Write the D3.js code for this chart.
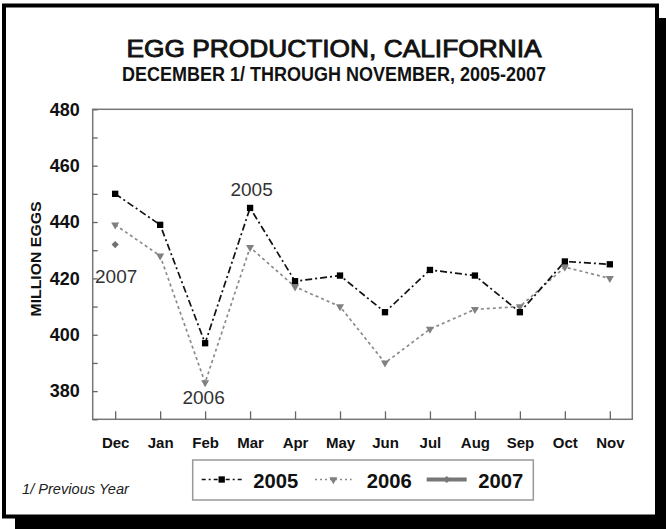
<!DOCTYPE html>
<html>
<head>
<meta charset="utf-8">
<script src="https://cdn.jsdelivr.net/npm/d3@7"></script>
<style>
  html, body { margin: 0; padding: 0; background: #fff; }
  svg { display: block; }
  text { font-family: "Liberation Sans", Arial, Helvetica, sans-serif; }
</style>
</head>
<body>
<svg id="chart" width="666" height="529"></svg>
<script>
// ---- data ----
const months = ["Dec","Jan","Feb","Mar","Apr","May","Jun","Jul","Aug","Sep","Oct","Nov"];
const values2005 = [450, 439, 397, 445, 419, 421, 408, 423, 421, 408, 426, 425];
const values2006 = [439, 428, 383, 431, 417, 410, 390, 402, 409, 410, 424, 420];
const values2007 = [432];
const yTicks = [380, 400, 420, 440, 460, 480];
const yMinorTicks = [370, 390, 410, 430, 450, 470];
const seriesNames = ["2005", "2006", "2007"];
const titleText = "EGG PRODUCTION, CALIFORNIA";
const subtitleText = "DECEMBER 1/ THROUGH NOVEMBER, 2005-2007";
const yAxisTitle = "MILLION EGGS";
const footnote = "1/ Previous Year";

const svg = d3.select("#chart");

// frame with drop shadow
svg.append("rect").attr("x", 15).attr("y", 18).attr("width", 651).attr("height", 511).attr("fill", "#000");
svg.append("rect").attr("x", 4).attr("y", 5.5).attr("width", 653).attr("height", 511)
  .attr("fill", "#fff").attr("stroke", "#000").attr("stroke-width", 4);

// titles
svg.append("text").attr("x", 334).attr("y", 57).attr("text-anchor", "middle")
  .attr("font-size", 24.5).attr("fill", "#111")
  .attr("textLength", 415).attr("lengthAdjust", "spacingAndGlyphs")
  .style("stroke", "#111").style("stroke-width", 0.9)
  .text(titleText);
svg.append("text").attr("x", 334).attr("y", 80.5).attr("text-anchor", "middle")
  .attr("font-size", 20).attr("font-weight", "bold").attr("fill", "#111")
  .attr("textLength", 424).attr("lengthAdjust", "spacingAndGlyphs")
  .text(subtitleText);

// scales
const plot = { left: 92.7, right: 632.3, top: 109.3, bottom: 419.3 };
const x = d3.scalePoint().domain(months).range([plot.left, plot.right]).padding(0.5);
const y = d3.scaleLinear().domain([370, 480]).range([plot.bottom, plot.top]);

// plot frame
svg.append("rect").attr("x", plot.left).attr("y", plot.top)
  .attr("width", plot.right - plot.left).attr("height", plot.bottom - plot.top)
  .attr("fill", "none").attr("stroke", "#777").attr("stroke-width", 1.5);

// y axis
const yAxis = d3.axisLeft(y).tickValues(yTicks.concat(yMinorTicks))
  .tickSizeInner(-5).tickSizeOuter(0).tickPadding(13)
  .tickFormat(d => yTicks.includes(d) ? d : "");
const gy = svg.append("g").attr("transform", `translate(${plot.left},0)`).call(yAxis);
gy.select(".domain").remove();
gy.selectAll(".tick line").attr("stroke", "#666").attr("stroke-width", 1.3);
gy.selectAll(".tick text").attr("font-size", 18).attr("font-weight", "bold").attr("fill", "#111")
  .attr("font-family", "'Liberation Sans', Arial, sans-serif");

// x axis
const xAxis = d3.axisBottom(x).tickSizeInner(-8).tickSizeOuter(0).tickPadding(18);
const gx = svg.append("g").attr("transform", `translate(0,${plot.bottom})`).call(xAxis);
gx.select(".domain").remove();
gx.selectAll(".tick line").attr("stroke", "#666").attr("stroke-width", 1.3);
gx.selectAll(".tick text").attr("font-size", 15).attr("font-weight", "bold").attr("fill", "#111")
  .attr("font-family", "'Liberation Sans', Arial, sans-serif");

// y axis title
svg.append("text").attr("transform", "translate(41,259) rotate(-90)")
  .attr("text-anchor", "middle").attr("font-size", 14).attr("font-weight", "bold").attr("fill", "#111")
  .attr("textLength", 115).attr("lengthAdjust", "spacingAndGlyphs")
  .text(yAxisTitle);

// lines
const line = d3.line().x((d, i) => x(months[i])).y(d => y(d));
svg.append("path").datum(values2006).attr("d", line).attr("fill", "none")
  .attr("stroke", "#8a8a8a").attr("stroke-width", 1.7).attr("stroke-dasharray", "3,3");
svg.append("path").datum(values2005).attr("d", line).attr("fill", "none")
  .attr("stroke", "#111").attr("stroke-width", 1.7).attr("stroke-dasharray", "7,3,2,3");

const sq = d3.symbol().type(d3.symbolSquare).size(40);
const tri = d3.symbol().type(d3.symbolTriangle).size(28);
const dia = d3.symbol().type(d3.symbolSquare).size(26);

svg.append("g").selectAll("path").data(values2006).join("path")
  .attr("d", tri).attr("fill", "#808080")
  .attr("transform", (d, i) => `translate(${x(months[i])},${y(d)}) rotate(180)`);
svg.append("g").selectAll("path").data(values2005).join("path")
  .attr("d", sq).attr("fill", "#000")
  .attr("transform", (d, i) => `translate(${x(months[i])},${y(d)})`);
svg.append("g").selectAll("path").data(values2007).join("path")
  .attr("d", dia).attr("fill", "#707070")
  .attr("transform", (d, i) => `translate(${x(months[i])},${y(d)}) rotate(45)`);

// annotations
const ann = [
  { name: seriesNames[0], m: "Mar", v: values2005[3], dx: 1.5, dy: -12 },
  { name: seriesNames[1], m: "Feb", v: values2006[2], dx: -1.5, dy: 21 },
  { name: seriesNames[2], m: "Dec", v: values2007[0], dx: 1, dy: 38 }
];
ann.forEach(a => {
  svg.append("text").attr("x", x(a.m) + a.dx).attr("y", y(a.v) + a.dy)
    .attr("text-anchor", "middle").attr("font-size", 19).attr("fill", "#333")
    .text(a.name);
});

// legend
svg.append("rect").attr("x", 192.7).attr("y", 460).attr("width", 340.6).attr("height", 40)
  .attr("fill", "#fff").attr("stroke", "#999").attr("stroke-width", 1.5);
const ly = 479.5;
const leg = [
  { x1: 201.7, x2: 241.7, tx: 253.3, stroke: "#111", dash: "4,3,2,3", w: 1.7, sym: sq, fill: "#000", rot: 0 },
  { x1: 315, x2: 351.7, tx: 366.7, stroke: "#8a8a8a", dash: "2,3", w: 1.7, sym: tri, fill: "#808080", rot: 180 },
  { x1: 426.7, x2: 466.7, tx: 478.3, stroke: "#777", dash: null, w: 4, sym: dia, fill: "#777", rot: 45 }
];
leg.forEach((l, i) => {
  svg.append("line").attr("x1", l.x1).attr("x2", l.x2).attr("y1", ly).attr("y2", ly)
    .attr("stroke", l.stroke).attr("stroke-width", l.w).attr("stroke-dasharray", l.dash);
  svg.append("path").attr("d", l.sym).attr("fill", l.fill)
    .attr("transform", `translate(${(l.x1 + l.x2) / 2},${ly}) rotate(${l.rot})`);
  svg.append("text").attr("x", l.tx).attr("y", 488).attr("font-size", 21).attr("font-weight", "bold")
    .attr("fill", "#111").attr("textLength", 45).attr("lengthAdjust", "spacingAndGlyphs")
    .text(seriesNames[i]);
});

// footnote
svg.append("text").attr("x", 22).attr("y", 494).attr("font-size", 14).attr("font-style", "italic")
  .attr("fill", "#222").attr("textLength", 107).attr("lengthAdjust", "spacingAndGlyphs")
  .text(footnote);
</script>
</body>
</html>
